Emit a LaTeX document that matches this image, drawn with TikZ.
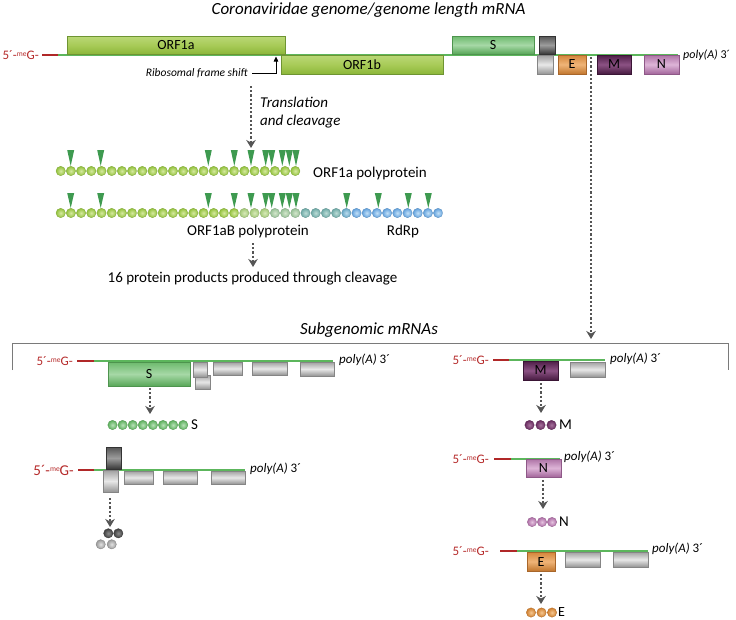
\documentclass[tikz,border=0pt]{standalone}
\usepackage{fontspec}
\setmainfont{Carlito}
\usetikzlibrary{arrows.meta}
\definecolor{lgreen}{HTML}{5CB65C}
\definecolor{lred}{HTML}{B02828}
\definecolor{capred}{HTML}{B52A2A}
\definecolor{agray}{HTML}{555555}
\definecolor{tri}{HTML}{3E9A50}
\definecolor{brk}{HTML}{7A7A7A}
% box colours
\definecolor{orfT}{HTML}{BAD877}\definecolor{orfM}{HTML}{A8CB58}\definecolor{orfB}{HTML}{8CB73A}\definecolor{orfE}{HTML}{6E9432}
\definecolor{sT}{HTML}{6DBA6D}\definecolor{sM}{HTML}{A6D8A6}\definecolor{sB}{HTML}{58A758}\definecolor{sE}{HTML}{4E944E}
\definecolor{dgT}{HTML}{555555}\definecolor{dgM}{HTML}{9C9C9C}\definecolor{dgB}{HTML}{383838}\definecolor{dgE}{HTML}{333333}
\definecolor{lgT}{HTML}{A0A0A0}\definecolor{lgM}{HTML}{E8E8E8}\definecolor{lgB}{HTML}{949494}\definecolor{lgE}{HTML}{858585}
\definecolor{eT}{HTML}{D4853A}\definecolor{eM}{HTML}{EFB478}\definecolor{eB}{HTML}{C2772E}\definecolor{eE}{HTML}{A8662A}
\definecolor{mT}{HTML}{4E1E47}\definecolor{mM}{HTML}{8C5284}\definecolor{mB}{HTML}{471B41}\definecolor{mE}{HTML}{3A1535}
\definecolor{nT}{HTML}{AE74A6}\definecolor{nM}{HTML}{DDB4D7}\definecolor{nB}{HTML}{A3669B}\definecolor{nE}{HTML}{8E5887}
% bead colours
\definecolor{gbi}{HTML}{D6EAA0}\definecolor{gbo}{HTML}{92C13C}
\definecolor{g2i}{HTML}{D8EAB8}\definecolor{g2o}{HTML}{A2C878}
\definecolor{g3i}{HTML}{D4E6CC}\definecolor{g3o}{HTML}{96C096}
\definecolor{tbi}{HTML}{BCDCD6}\definecolor{tbo}{HTML}{6EA9A6}
\definecolor{tbbi}{HTML}{BCDCEE}\definecolor{tbbo}{HTML}{66A6C4}
\definecolor{bbi}{HTML}{C2E0F8}\definecolor{bbo}{HTML}{62A1DC}
\definecolor{sbi}{HTML}{B8E2B8}\definecolor{sbo}{HTML}{5CAF5C}
\definecolor{pbi}{HTML}{A8749E}\definecolor{pbo}{HTML}{672A5E}
\definecolor{nbi}{HTML}{E6C4E0}\definecolor{nbo}{HTML}{AE6EA6}
\definecolor{obi}{HTML}{F6C892}\definecolor{obo}{HTML}{CF7E2E}
\definecolor{dbi}{HTML}{8C8C8C}\definecolor{dbo}{HTML}{404040}
\definecolor{lbi}{HTML}{E2E2E2}\definecolor{lbo}{HTML}{9A9A9A}

\newcommand\fsz[1]{\fontsize{#1}{#1}\selectfont}
\newcommand\fivecap{5´-\raisebox{0.45ex}{\fsz{7.5}me}G-}
\newcommand\polya{\textit{poly(A)} 3´}
\newcommand\gb[7]{%
  \pgfmathsetmacro\gbw{#5-#3}\pgfmathsetmacro\gbh{#6-#4}%
  \node[#2, minimum width=\gbw pt, minimum height=\gbh pt] (#1) at ({(#3+#5)/2},{(#4+#6)/2}) {#7};}
\newcommand\bd[4]{\shadedraw[inner color=#3, outer color=#4, draw=#4!85!black, line width=0.3pt] (#1,#2) circle[radius=4.7];}

\tikzset{
  gbase/.style={inner sep=0pt, outer sep=0pt, line width=0.5pt, font=\fsz{14}},
  orfbox/.style={gbase, draw=orfE, top color=orfT, bottom color=orfB, middle color=orfM},
  sbox/.style={gbase, draw=sE, top color=sT, bottom color=sB, middle color=sM},
  dgbox/.style={gbase, draw=dgE, top color=dgT, bottom color=dgB, middle color=dgM},
  lgbox/.style={gbase, draw=lgE, top color=lgT, bottom color=lgB, middle color=lgM},
  ebox/.style={gbase, draw=eE, top color=eT, bottom color=eB, middle color=eM},
  mbox/.style={gbase, draw=mE, top color=mT, bottom color=mB, middle color=mM},
  nbox/.style={gbase, draw=nE, top color=nT, bottom color=nB, middle color=nM},
  capst/.style={inner sep=0pt, text=capred, font=\fsz{13}, anchor=east},
  polyst/.style={inner sep=0pt, font=\fsz{13}, anchor=west},
  lab/.style={inner sep=0pt, font=\fsz{15}},
  ttl/.style={inner sep=0pt, font=\fsz{17}\itshape},
  redl/.style={lred, line width=1.6pt},
  grnl/.style={lgreen, line width=1.3pt},
  dotarr/.style={agray, line width=2.2pt, dash pattern=on 2.1pt off 2.1pt, -{Stealth[length=8pt,width=9.5pt,inset=2.5pt]}},
}

\begin{document}
\begin{tikzpicture}[x=1pt,y=-1pt]
\useasboundingbox (0,0) rectangle (736,619);

% ---------------- genome ----------------
\node[ttl] (title) at (368.5,10) {Coronaviridae genome/genome length mRNA};
\node[capst] (gcap) at (39,55) {\fivecap};
\draw[redl] (42,55) -- (58,55);
\draw[grnl] (58,55) -- (678,55);
\gb{orf1a}{orfbox}{67}{36}{285}{54}{ORF1a}
\gb{orf1b}{orfbox}{281}{55}{443}{74}{ORF1b}
\gb{gS}{sbox}{452}{36}{534}{54}{S}
\gb{gdg}{dgbox}{539}{36}{555}{54}{}
\gb{glg}{lgbox}{537}{55}{553}{74}{}
\gb{gE}{ebox}{558}{55}{586}{74}{E}
\gb{gM}{mbox}{597}{55}{631}{74}{M}
\gb{gN}{nbox}{644}{55}{679}{74}{N}
\node[polyst, font=\fsz{12}] (gpoly) at (683,55) {\polya};

\node[inner sep=0pt, font=\fsz{11.5}\itshape, anchor=east] (rfs) at (248,73) {Ribosomal frame shift};
\coordinate (fs) at (276,56.5);
\draw[line width=0.7pt, -{Triangle[length=5pt,width=4.5pt]}] ([xshift=4pt]rfs.east) -| (fs);

% translation arrow
\coordinate (tr0) at (251,86);
\coordinate (tr1) at (251,148);
\draw[dotarr] (tr0) -- (tr1);
\node[inner sep=0pt, font=\fsz{15}\itshape, anchor=west, align=left] (trl) at (260,112.5) {Translation\\[3pt]and cleavage};

% polyprotein rows
\foreach \i in {0,...,23} {\bd{60.7+10.2*\i}{171}{gbi}{gbo}}
\foreach \x in {70.7,100.7,208.3,234.3,251,265.7,271.7,282.3,289.3,296}
  {\fill[tri] (\x-3.5,150) -- (\x+3.5,150) -- (\x,166) -- cycle;}
\node[lab, anchor=west] (p1a) at (313,173) {ORF1a polyprotein};

\foreach \i in {0,...,17} {\bd{60.7+10.2*\i}{213}{gbi}{gbo}}
\foreach \i in {18,...,20} {\bd{60.7+10.2*\i}{213}{g2i}{g2o}}
\foreach \i in {21,...,23} {\bd{60.7+10.2*\i}{213}{g3i}{g3o}}
\foreach \i in {24,...,27} {\bd{60.7+10.2*\i}{213}{tbi}{tbo}}
\foreach \i in {28} {\bd{60.7+10.2*\i}{213}{tbbi}{tbbo}}
\foreach \i in {29,...,37} {\bd{60.7+10.2*\i}{213}{bbi}{bbo}}
\foreach \x in {70.7,100.7,208.3,234.3,251,265.7,271.7,282.3,289.3,296,346.7,378.3,408.3,428.3}
  {\fill[tri] (\x-3.5,193) -- (\x+3.5,193) -- (\x,208) -- cycle;}
\node[lab] (p1ab) at (248,231) {ORF1aB polyprotein};
\node[lab] (rdrp) at (403,231) {RdRp};
\coordinate (pp0) at (253,243);
\coordinate (pp1) at (253,267);
\draw[dotarr] (pp0) -- (pp1);
\node[lab] (prod) at (252.5,279) {16 protein products produced through cleavage};

% long arrow to subgenomic
\coordinate (lg0) at (591,57);
\coordinate (lg1) at (591,339);
\draw[dotarr] (lg0) -- (lg1);

% ---------------- subgenomic ----------------
\node[ttl] (sub) at (369,330) {Subgenomic mRNAs};
\draw[brk, line width=0.9pt] (12,370) -- (12,343) -- (728,343) -- (728,370);

% S mRNA
\node[capst] (scap) at (73,361) {\fivecap};
\draw[redl] (77,361) -- (94,361);
\draw[grnl] (94,361) -- (333,361);
\gb{sS}{sbox}{108}{362}{190}{386}{S}
\gb{sg2}{lgbox}{195}{375}{210}{389}{}
\gb{sg1}{lgbox}{193}{362}{207}{377}{}
\gb{sg3}{lgbox}{213}{362}{242}{375}{}
\gb{sg4}{lgbox}{252}{362}{287}{375}{}
\gb{sg5}{lgbox}{300}{362}{334}{376}{}
\node[polyst] (spoly) at (339,360) {\polya};
\coordinate (sb) at (150,414);
\draw[dotarr, shorten <=2pt] (sS.south -| sb) -- (sb);
\foreach \i in {0,...,7} {\bd{112.5+10.1*\i}{425}{sbi}{sbo}}
\node[lab, anchor=west] (slab) at (191,425) {S};

% dark/grey mRNA
\node[capst, font=\fsz{15}] (dcap) at (74,470) {\fivecap};
\draw[redl] (78,470) -- (94,470);
\draw[grnl] (94,470) -- (245,470);
\gb{dg}{dgbox}{106}{447}{121}{469}{}
\gb{dl}{lgbox}{103}{470}{118}{492}{}
\gb{dg3}{lgbox}{124}{471}{153}{484}{}
\gb{dg4}{lgbox}{163}{471}{197}{484}{}
\gb{dg5}{lgbox}{211}{471}{245}{484}{}
\node[polyst] (dpoly) at (250,469) {\polya};
\coordinate (db) at (110,527);
\draw[dotarr] (110,498) coordinate (da) -- (db);
\bd{108.3}{533.3}{dbi}{dbo}
\bd{118.3}{533.3}{dbi}{dbo}
\bd{100.7}{544.3}{lbi}{lbo}
\bd{111.7}{544.3}{lbi}{lbo}

% M mRNA
\node[capst] (mcap) at (489,360) {\fivecap};
\draw[redl] (493,360) -- (509,360);
\draw[grnl] (509,360) -- (605,360);
\gb{mM}{mbox}{523}{361}{558}{380}{M}
\gb{mg}{lgbox}{570}{362}{605}{377}{}
\node[polyst] (mpoly) at (610,359) {\polya};
\coordinate (mb) at (541,413);
\draw[dotarr, shorten <=3pt] (mM.south -| mb) -- (mb);
\foreach \x in {529.5,540.5,551.5} {\bd{\x}{425}{pbi}{pbo}}
\node[lab, anchor=west] (mlab) at (559,425) {M};

% N mRNA
\node[capst] (ncap) at (489,459) {\fivecap};
\draw[redl] (494,459) -- (511,459);
\draw[grnl] (511,459) -- (560,459);
\gb{nN}{nbox}{526}{459}{561}{477}{N}
\node[polyst] (npoly) at (564,457) {\polya};
\coordinate (nb) at (543,509);
\draw[dotarr, shorten <=3pt] (nN.south -| nb) -- (nb);
\foreach \x in {532,542,552} {\bd{\x}{522}{nbi}{nbo}}
\node[lab, anchor=west] (nlab) at (559,522) {N};

% E mRNA
\node[capst] (ecap) at (489,551) {\fivecap};
\draw[redl] (500,551) -- (517,551);
\draw[grnl] (517,551) -- (648,551);
\gb{eE}{ebox}{527}{552}{555}{571}{E}
\gb{eg1}{lgbox}{565}{552}{600}{567}{}
\gb{eg2}{lgbox}{613}{552}{648}{567}{}
\node[polyst] (epoly) at (652,549) {\polya};
\coordinate (eb) at (541,604);
\draw[dotarr, shorten <=3pt] (eE.south -| eb) -- (eb);
\foreach \x in {531,541.5,552} {\bd{\x}{612.5}{obi}{obo}}
\node[lab, font=\fsz{14}, anchor=west] (elab) at (558,612) {E};
\end{tikzpicture}
\end{document}
